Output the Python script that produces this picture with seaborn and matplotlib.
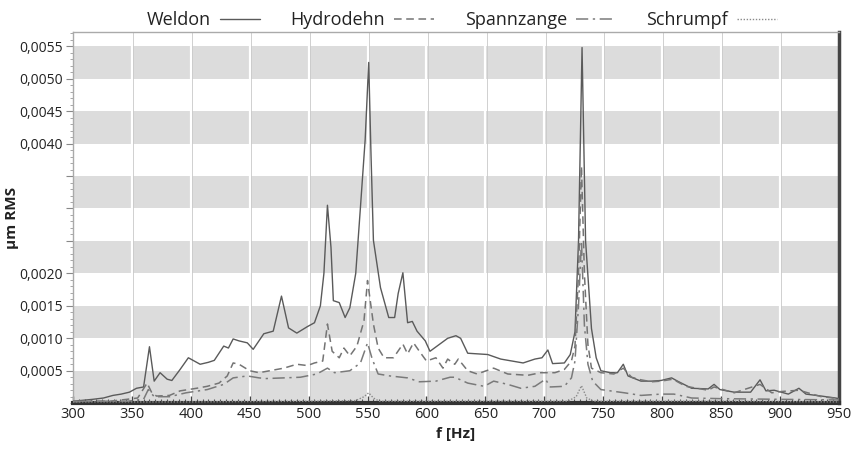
import numpy as np
import pandas as pd
import matplotlib
matplotlib.use("Agg")
import matplotlib.pyplot as plt
from matplotlib.ticker import MultipleLocator, FixedLocator
import seaborn as sns

# ---------------- data ----------------
weldon_f = [300, 317, 326, 334, 341, 348, 354, 360, 365, 369, 374, 380, 384, 391, 398, 408, 415, 420,
            428, 432, 436, 441, 448, 453, 459, 462, 470, 477, 483, 490, 499, 505, 510, 513, 516, 519,
            521, 526, 531, 535, 540, 544, 548, 551, 553, 555, 561, 568, 573, 576, 580, 584, 588, 592,
            599, 603, 609, 618, 625, 629, 635, 652, 663, 682, 692, 698, 703, 707, 717, 722, 726, 729,
            732, 735, 740, 744, 748, 756, 762, 767, 771, 782, 791, 799, 808, 813, 825, 839, 844, 849,
            861, 875, 883, 888, 895, 907, 916, 922, 935, 947, 950]
weldon_v = [0.00003, 0.00006, 0.00008, 0.00012, 0.00014, 0.00017, 0.00023, 0.00025, 0.00087, 0.00034,
            0.00047, 0.00037, 0.00035, 0.00052, 0.00070, 0.00060, 0.00063, 0.00066, 0.00088, 0.00085,
            0.00099, 0.00096, 0.00093, 0.00083, 0.00099, 0.00107, 0.00111, 0.00165, 0.00116, 0.00108,
            0.00118, 0.00124, 0.00150, 0.00200, 0.00305, 0.00240, 0.00158, 0.00155, 0.00132, 0.00147,
            0.00200, 0.00302, 0.00406, 0.00525, 0.00380, 0.00251, 0.00178, 0.00132, 0.00132, 0.00169,
            0.00201, 0.00124, 0.00126, 0.00111, 0.00096, 0.00080, 0.00088, 0.00100, 0.00104, 0.00100,
            0.00077, 0.00075, 0.00068, 0.00062, 0.00068, 0.00070, 0.00082, 0.00061, 0.00062, 0.00075,
            0.00110, 0.00250, 0.00548, 0.00250, 0.00115, 0.00070, 0.00050, 0.00047, 0.00047, 0.00060,
            0.00042, 0.00034, 0.00034, 0.00035, 0.00039, 0.00034, 0.00023, 0.00022, 0.00029, 0.00021,
            0.00017, 0.00017, 0.00036, 0.00019, 0.00020, 0.00014, 0.00023, 0.00014, 0.00011, 0.00008,
            0.00007]

hydro_f = [300, 317, 331, 346, 355, 363, 367, 371, 382, 391, 405, 414, 424, 431, 436, 441, 450, 458,
           467, 479, 490, 499, 505, 512, 516, 520, 526, 530, 535, 541, 547, 550, 555, 559, 564, 572,
           580, 584, 589, 594, 600, 608, 614, 618, 624, 627, 635, 643, 657, 669, 686, 697, 709, 717,
           723, 726, 729, 731.5, 734, 737, 740, 748, 759, 767, 774, 782, 791, 799, 809, 820, 839, 844,
           861, 883, 893, 901, 916, 935, 950]
hydro_v = [0.00002, 0.00003, 0.00003, 0.00006, 0.00008, 0.00031, 0.00016, 0.00011, 0.00012, 0.00019,
           0.00023, 0.00026, 0.00031, 0.00042, 0.00062, 0.00060, 0.00050, 0.00047, 0.00050, 0.00054,
           0.00060, 0.00058, 0.00062, 0.00065, 0.00122, 0.00080, 0.00070, 0.00085, 0.00073, 0.00088,
           0.00127, 0.00189, 0.00122, 0.00085, 0.00070, 0.00070, 0.00091, 0.00076, 0.00093, 0.00080,
           0.00065, 0.00070, 0.00054, 0.00068, 0.00060, 0.00068, 0.00050, 0.00045, 0.00054, 0.00045,
           0.00043, 0.00047, 0.00047, 0.00052, 0.00065, 0.00088, 0.00200, 0.00365, 0.00200, 0.00090,
           0.00054, 0.00047, 0.00045, 0.00054, 0.00040, 0.00036, 0.00033, 0.00034, 0.00037, 0.00026,
           0.00020, 0.00025, 0.00016, 0.00029, 0.00016, 0.00018, 0.00020, 0.00010, 0.00007]

spann_f = [300, 320, 346, 360, 364, 369, 382, 396, 414, 428, 436, 448, 458, 464, 479, 493, 507, 516,
           522, 535, 544, 550, 554, 559, 569, 584, 594, 608, 620, 624, 635, 649, 657, 669, 680, 692,
           701, 705, 717, 723, 726, 729, 731.5, 734, 737, 741, 748, 768, 782, 799, 810, 825, 850, 900,
           950]
spann_v = [0.00003, 0.00003, 0.00003, 0.00006, 0.00021, 0.00010, 0.00010, 0.00016, 0.00021, 0.00029,
           0.00039, 0.00042, 0.00039, 0.00038, 0.00039, 0.00040, 0.00045, 0.00054, 0.00047, 0.00050,
           0.00062, 0.00093, 0.00068, 0.00045, 0.00042, 0.00039, 0.00033, 0.00034, 0.00040, 0.00040,
           0.00031, 0.00026, 0.00034, 0.00029, 0.00023, 0.00026, 0.00037, 0.00025, 0.00026, 0.00039,
           0.00065, 0.00150, 0.00250, 0.00120, 0.00060, 0.00034, 0.00021, 0.00016, 0.00012, 0.00014,
           0.00014, 0.00008, 0.00007, 0.00006, 0.00005]

schr_f = [300, 400, 500, 540, 547, 551, 555, 560, 650, 720, 727, 731.5, 736, 742, 850, 950]
schr_v = [0.00002, 0.00002, 0.00003, 0.00004, 0.00010, 0.00016, 0.00008, 0.00003, 0.00003, 0.00003,
          0.00010, 0.00027, 0.00008, 0.00003, 0.00003, 0.00002]

series_names = ["Weldon", "Hydrodehn", "Spannzange", "Schrumpf"]
x_ticks = [300, 350, 400, 450, 500, 550, 600, 650, 700, 750, 800, 850, 900, 950]
y_ticks = [0.0005, 0.0010, 0.0015, 0.0020, 0.0025, 0.0030, 0.0035, 0.0040, 0.0045, 0.0050, 0.0055]
y_tick_labels = ["0,0005", "0,0010", "0,0015", "0,0020", "", "", "", "0,0040", "0,0045", "0,0050", "0,0055"]

# ---------------- style ----------------
sns.set_theme(style="white")
plt.rcParams['font.family'] = ['Open Sans', 'DejaVu Sans']

fig = plt.figure(figsize=(8.57, 4.5), dpi=100)
ax = fig.add_axes([0.085, 0.104, 0.894, 0.825])

# bands
for lo in [0.0, 0.0010, 0.0020, 0.0030, 0.0040, 0.0050]:
    ax.axhspan(lo, lo + 0.0005, color="#dcdcdc", zorder=0, lw=0)
for xt in x_ticks[1:-1]:
    ax.axvline(xt, color="white", lw=1.6, zorder=0.5)
    ax.axvline(xt + 1.0, color="#c9c9c9", lw=0.6, zorder=0.6)

data = [(weldon_f, weldon_v, "#5a5a5a", "-", 1.0),
        (hydro_f, hydro_v, "#747474", (0, (5, 3)), 1.1),
        (spann_f, spann_v, "#7a7a7a", (0, (8, 3, 1.5, 3)), 1.1),
        (schr_f, schr_v, "#8a8a8a", (0, (1, 1.2)), 1.0)]
for name, (fx, fv, c, ls, lw) in zip(series_names, data):
    df = pd.DataFrame({"f": fx, "v": fv})
    sns.lineplot(data=df, x="f", y="v", ax=ax, color=c, linestyle=ls, lw=lw,
                 label=name, zorder=3, sort=True)

ax.set_xlim(300, 950)
ax.set_ylim(0, 0.00572)
ax.xaxis.set_major_locator(FixedLocator(x_ticks))
ax.xaxis.set_minor_locator(MultipleLocator(5))
ax.set_xticklabels([str(v) for v in x_ticks])
ax.yaxis.set_major_locator(FixedLocator(y_ticks))
ax.yaxis.set_minor_locator(MultipleLocator(0.0001))
ax.set_yticklabels(y_tick_labels)

ax.tick_params(axis="x", which="major", direction="in", length=5, width=1, color="#444",
               labelsize=10.5, pad=3, labelcolor="#222", bottom=True)
ax.tick_params(axis="x", which="minor", direction="in", length=3, width=0.8, color="#555", bottom=True)
ax.tick_params(axis="y", which="major", direction="out", length=5, width=0.8, color="#888",
               labelsize=10, pad=2, labelcolor="#222", left=True)
ax.tick_params(axis="y", which="minor", direction="out", length=2, width=0.6, color="#999", left=True)

for s in ["left", "top"]:
    ax.spines[s].set_color("#aaaaaa")
    ax.spines[s].set_linewidth(1.0)
ax.spines["bottom"].set_color("#333333")
ax.spines["bottom"].set_linewidth(3)
ax.spines["right"].set_color("#444444")
ax.spines["right"].set_linewidth(2.5)

ax.set_xlabel("f [Hz]", fontsize=11, fontweight="bold", color="#222")
ax.xaxis.set_label_coords(0.5, -0.065)
ax.set_ylabel("µm RMS", fontsize=11, fontweight="bold", color="#222")
ax.yaxis.set_label_coords(-0.07, 0.5)

leg = ax.legend(loc="lower center", bbox_to_anchor=(0.508, 1.003), ncol=4, frameon=False,
                markerfirst=False, fontsize=13, handlelength=2.2, columnspacing=1.7,
                handletextpad=0.5, borderaxespad=0.0, borderpad=0.1)
for t in leg.get_texts():
    t.set_color("#222")

fig.savefig("out.png", dpi=100)
